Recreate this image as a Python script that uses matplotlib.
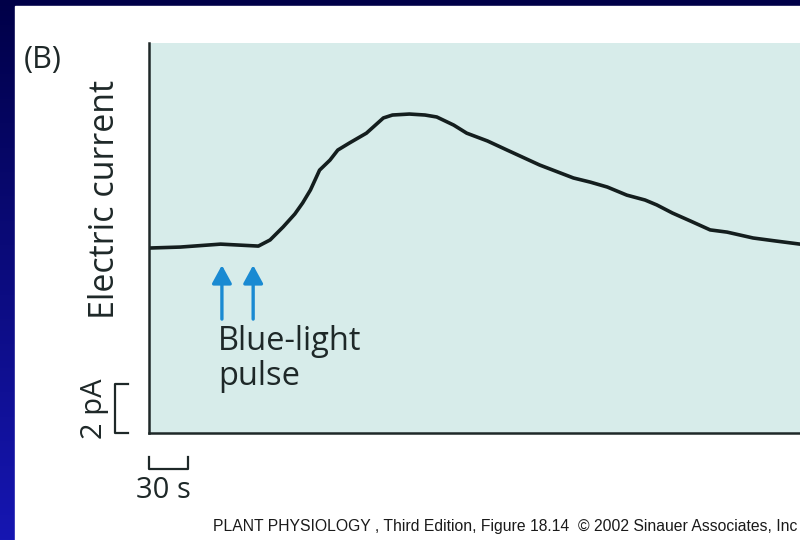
import numpy as np
import matplotlib
matplotlib.use("Agg")
import matplotlib.pyplot as plt
from matplotlib.patches import Rectangle

# trace: time (s) and current (pA above the axis floor)
time_s = [0, 24, 55, 84, 93, 103, 112, 118, 124, 131, 139, 145, 154, 167, 180,
          187, 200, 212, 221, 234, 244, 260, 275, 300, 326, 339, 352, 367, 381,
          390, 402, 416, 431, 444, 454, 464, 481, 500]
current_pA = [7.55, 7.59, 7.71, 7.63, 7.88, 8.41, 8.94, 9.39, 9.92, 10.73, 11.14,
              11.55, 11.84, 12.24, 12.86, 12.98, 13.02, 12.98, 12.90, 12.57, 12.24,
              11.92, 11.55, 10.94, 10.41, 10.24, 10.04, 9.71, 9.51, 9.31, 8.98,
              8.65, 8.29, 8.20, 8.08, 7.96, 7.84, 7.71]

# blue-light pulses (s) and arrow span (pA)
pulse_times = [56, 80]
arrow_bottom, arrow_top = 4.65, 6.85

# scale bars
scale_current = 2   # pA
scale_time = 30     # s

fig = plt.figure(figsize=(8, 5.4), dpi=100)

# navy gradient background
bg = fig.add_axes([0, 0, 1, 1])
grad = np.linspace(0, 1, 256).reshape(-1, 1)
top_col = np.array([0, 0, 72]) / 255
bot_col = np.array([22, 22, 178]) / 255
img = top_col + grad[..., None] * (bot_col - top_col)
bg.imshow(img.reshape(256, 1, 3), aspect="auto", extent=[0, 1, 0, 1])
bg.set_xlim(0, 1)
bg.set_ylim(0, 1)
bg.axis("off")
bg.add_patch(Rectangle((15 / 800, 0), 1, (540 - 6) / 540, color="white", zorder=2))

ax = fig.add_axes([149 / 800, 107 / 540, 651 / 800, 390 / 540])
ax.set_facecolor("#d7ecea")
ax.plot(time_s, current_pA, color="#141e1e", lw=2.6, solid_capstyle="round",
        solid_joinstyle="round")
ax.set_xlim(0, 500)
ax.set_ylim(0, 15.92)
for s in ["top", "right"]:
    ax.spines[s].set_visible(False)
for s in ["left", "bottom"]:
    ax.spines[s].set_color("#1e2828")
    ax.spines[s].set_linewidth(1.8)
ax.set_xticks([])
ax.set_yticks([])

for t in pulse_times:
    ax.annotate("", xy=(t, arrow_top), xytext=(t, arrow_bottom),
                arrowprops=dict(arrowstyle="-|>,head_width=0.6,head_length=1.1",
                                color="#1a8ad2", lw=2.4, shrinkA=0, shrinkB=0))

font = "Open Sans"
ink = "#1e2828"
ax.text(53, 3.39, "Blue-light", fontsize=23.5, family=font, color=ink,
        ha="left", va="baseline")
ax.text(53, 1.96, "pulse", fontsize=23.5, family=font, color=ink,
        ha="left", va="baseline")

# 2 pA scale bar
bx, bt = -26, -16
ax.plot([bt, bx, bx, bt], [scale_current, scale_current, 0, 0], color=ink,
        lw=1.6, clip_on=False)
ax.text(-42, 1.0, "2 pA", rotation=90, fontsize=21, family=font,
        color=ink, ha="center", va="center")

# 30 s scale bar
sy, st = -1.47, -0.98
ax.plot([0, 0, scale_time, scale_time], [st, sy, sy, st], color=ink,
        lw=1.6, clip_on=False)
ax.text(10.8, -2.65, "30 s", fontsize=21, family=font,
        color=ink, ha="center", va="baseline")

fig.text(105 / 800, 1 - 199 / 540, "Electric current", rotation=90, fontsize=24.5,
         family=font, color=ink, ha="center", va="center")
fig.text(24 / 800, 1 - 60 / 540, "(B)", fontsize=22, family=font,
         color=ink, ha="left", va="center")
fig.text(213 / 800, 1 - 527 / 540,
         "PLANT PHYSIOLOGY , Third Edition, Figure 18.14  \u00a9 2002 Sinauer Associates, Inc",
         fontsize=11.3, family="Liberation Sans", color="#1a1a1a", ha="left",
         va="center")

fig.savefig("out.png", dpi=100)
